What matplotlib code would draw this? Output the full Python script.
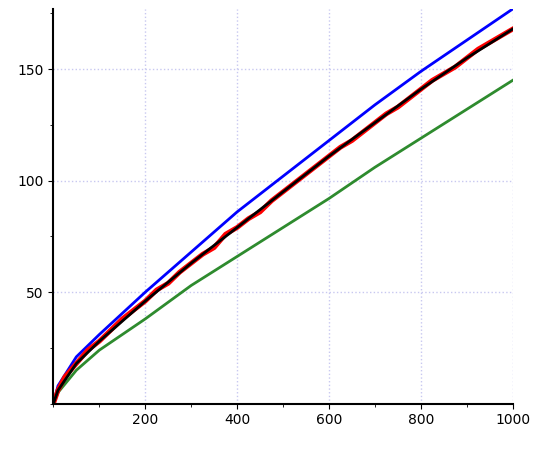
import matplotlib.pyplot as plt
from matplotlib.ticker import MultipleLocator

x = [0, 10, 50, 100, 200, 300, 400, 500, 600, 700, 800, 900, 1000]
blue = [0, 8, 21, 31, 50, 68, 86, 102, 118, 134, 149, 163, 177]
black = [0, 6, 18, 28, 46, 63, 79, 95, 111, 126, 141, 155, 168]
green = [0, 5, 15, 24, 38, 53, 66, 79, 92, 106, 119, 132, 145]

# noisy simulation around the black curve
red_x = [0, 10, 25, 50, 75, 100, 125, 150, 175, 200, 225, 250, 275, 300, 325, 350, 375,
         400, 425, 450, 475, 500, 525, 550, 575, 600, 625, 650, 675, 700, 725, 750, 775,
         800, 825, 850, 875, 900, 925, 950, 975, 1000]
red_y = [0, 6, 12, 18, 24, 28, 33, 38, 42, 46, 51, 54, 59, 63, 67, 70, 76,
         79, 83, 86, 91, 95, 99, 103, 107, 111, 115, 118, 122, 126, 130, 133, 137,
         141, 145, 148, 151, 155, 159, 162, 165, 168]

fig, ax = plt.subplots(figsize=(5.34, 4.51), dpi=100)
fig.subplots_adjust(left=0.1, right=0.96, bottom=0.105, top=0.98)

ax.plot(x, blue, color="#0000ff", lw=2)
ax.plot(x, green, color="#2e8b2e", lw=2)
ax.plot(red_x, red_y, color="#ff0000", lw=3.5)
ax.plot(x, black, color="black", lw=2)

ax.set_xlim(0, 1000)
ax.set_ylim(0, 177)
ax.set_xticks([200, 400, 600, 800, 1000])
ax.set_yticks([50, 100, 150])
ax.xaxis.set_minor_locator(MultipleLocator(100))
ax.yaxis.set_minor_locator(MultipleLocator(25))
ax.grid(True, which="major", color="#c8c8f0", ls=":", lw=1)
for s in ("top", "right"):
    ax.spines[s].set_visible(False)
for s in ("left", "bottom"):
    ax.spines[s].set_linewidth(1.5)
ax.tick_params(labelsize=10)

plt.savefig("out.png")
